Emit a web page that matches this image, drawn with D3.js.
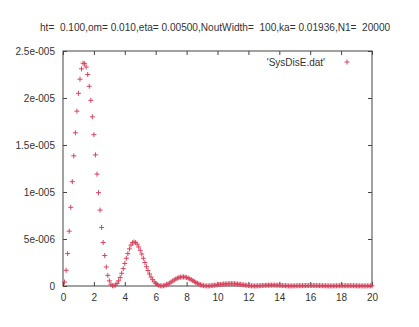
<!DOCTYPE html>
<html lang="en">
<head>
<meta charset="UTF-8">
<title>SysDisE</title>
<script src="https://d3js.org/d3.v7.min.js"></script>
<style>
    body { margin: 0; padding: 0; background: #fff; }
    text { font-family: "Liberation Sans", Arial, sans-serif; fill: #333; }
    .title { font-size: 10.1px; white-space: pre; }
    .frame { fill: none; stroke: #444; stroke-width: 1px; }
    .pt { stroke: #d8445e; stroke-width: 1px; }
</style>
</head>
<body>
<div id="chart"></div>
<script>
    // plot header and legend
    const titleText = "ht=  0.100,om= 0.010,eta= 0.00500,NoutWidth=  100,ka= 0.01936,N1=  20000";
    const seriesName = "'SysDisE.dat'";

    // samples start at x = 0.1 with step 0.1
    const xStart = 0.1;
    const xStep = 0.1;
    // values in units of 1e-6
    const yUnit = 1e-6;
    const sysDisE = [
        0.42, 1.67, 3.45, 5.83, 8.37, 11.1, 13.85, 16.3, 18.6, 20.5,      // 0.1 - 1.0
        22.0, 23.1, 23.7, 23.65, 23.3, 22.5, 21.25, 19.75, 18.0, 16.1,    // 1.1 - 2.0
        13.95, 11.9, 9.93, 8.08, 6.23, 4.63, 3.24, 2.02, 1.13, 0.55,      // 2.1 - 3.0
        0.18, 0.03, 0.02, 0.10, 0.28, 0.55, 0.90, 1.35, 1.85, 2.40,       // 3.1 - 4.0
        2.95, 3.45, 3.95, 4.35, 4.60, 4.68, 4.62, 4.45, 4.15, 3.80,       // 4.1 - 5.0
        3.40, 2.95, 2.50, 2.05, 1.65, 1.28, 0.95, 0.67, 0.45, 0.28,       // 5.1 - 6.0
        0.15, 0.07, 0.02, 0.01, 0.03, 0.08, 0.14, 0.22, 0.31, 0.42,       // 6.1 - 7.0
        0.53, 0.64, 0.74, 0.83, 0.90, 0.94, 0.96, 0.96, 0.94, 0.90,       // 7.1 - 8.0
        0.84, 0.76, 0.67, 0.57, 0.47, 0.37, 0.28, 0.20, 0.13, 0.08,       // 8.1 - 9.0
        0.04, 0.02, 0.01, 0.01, 0.02, 0.04, 0.06, 0.08, 0.10, 0.13,       // 9.1 - 10.0
        0.15, 0.17, 0.19, 0.21, 0.22, 0.23, 0.24, 0.25, 0.25, 0.25,       // 10.1 - 11.0
        0.24, 0.23, 0.21, 0.19, 0.17, 0.14, 0.12, 0.09, 0.07, 0.05,       // 11.1 - 12.0
        0.03, 0.02, 0.01, 0.01, 0.01, 0.02, 0.03, 0.04, 0.05, 0.06,       // 12.1 - 13.0
        0.07, 0.08, 0.08, 0.09, 0.09, 0.09, 0.09, 0.08, 0.08, 0.07,       // 13.1 - 14.0
        0.06, 0.05, 0.04, 0.03, 0.02, 0.01, 0.01, 0.01, 0.01, 0.02,       // 14.1 - 15.0
        0.02, 0.03, 0.03, 0.03, 0.04, 0.04, 0.04, 0.05, 0.05, 0.05,       // 15.1 - 16.0
        0.05, 0.05, 0.05, 0.04, 0.04, 0.04, 0.03, 0.03, 0.02, 0.02,       // 16.1 - 17.0
        0.01, 0.01, 0.01, 0.01, 0.01, 0.02, 0.02, 0.02, 0.03, 0.03,       // 17.1 - 18.0
        0.03, 0.03, 0.03, 0.03, 0.03, 0.03, 0.03, 0.03, 0.02, 0.02,       // 18.1 - 19.0
        0.02, 0.01, 0.01, 0.01, 0.01, 0.01, 0.01, 0.01, 0.02, 0.02        // 19.1 - 20.0
    ];

    const xTicks = [0, 2, 4, 6, 8, 10, 12, 14, 16, 18, 20];
    const yTicks = [0, 5e-6, 1e-5, 1.5e-5, 2e-5, 2.5e-5];
    const yTickLabels = ["0", "5e-006", "1e-005", "1.5e-005", "2e-005", "2.5e-005"];

    const width = 419, height = 327;
    const margin = {left: 63, right: 47, top: 51, bottom: 41};

    const svg = d3.select("#chart")
        .append("svg")
        .attr("width", width)
        .attr("height", height);

    const x = d3.scaleLinear().domain([0, 20]).range([margin.left, width - margin.right]);
    const y = d3.scaleLinear().domain([0, 2.5e-5]).range([height - margin.bottom, margin.top]);

    const points = sysDisE.map((v, i) => ({x: xStart + i * xStep, y: v * yUnit}));

    // title
    svg.append("text")
        .attr("class", "title")
        .attr("x", 40)
        .attr("y", 31)
        .attr("xml:space", "preserve")
        .text(titleText);

    // axes with inward ticks on all four sides (gnuplot style)
    const tickLen = 4;
    const bottomAxis = d3.axisBottom(x).tickValues(xTicks).tickSize(-tickLen).tickPadding(8).tickFormat(d3.format("d"));
    const topAxis = d3.axisTop(x).tickValues(xTicks).tickSize(-tickLen).tickFormat("");
    const leftAxis = d3.axisLeft(y).tickValues(yTicks).tickSize(-tickLen).tickPadding(8)
        .tickFormat((d, i) => yTickLabels[i]);
    const rightAxis = d3.axisRight(y).tickValues(yTicks).tickSize(-tickLen).tickFormat("");

    const gB = svg.append("g").attr("transform", `translate(0,${y(0)})`).call(bottomAxis);
    const gT = svg.append("g").attr("transform", `translate(0,${y(2.5e-5)})`).call(topAxis);
    const gL = svg.append("g").attr("transform", `translate(${x(0)},0)`).call(leftAxis);
    const gR = svg.append("g").attr("transform", `translate(${x(20)},0)`).call(rightAxis);

    [gB, gT, gL, gR].forEach(g => {
        g.select(".domain").remove();
        g.selectAll(".tick line").attr("stroke", "#444");
        g.selectAll(".tick text")
            .attr("fill", "#333")
            .style("font-family", "'Liberation Sans', Arial, sans-serif")
            .style("font-size", "10px");
    });

    svg.append("rect")
        .attr("class", "frame")
        .attr("x", x(0))
        .attr("y", y(2.5e-5))
        .attr("width", x(20) - x(0))
        .attr("height", y(0) - y(2.5e-5));

    // data points as "+" marks
    const half = 2.5;
    const plus = d => `M${-half},0H${half}M0,${-half}V${half}`;
    svg.append("g")
        .selectAll("path")
        .data(points)
        .enter()
        .append("path")
        .attr("class", "pt")
        .attr("transform", d => `translate(${x(d.x)},${y(d.y)})`)
        .attr("d", plus);

    // legend
    const legendY = 62;
    svg.append("text")
        .attr("x", 325)
        .attr("y", legendY + 3.5)
        .attr("text-anchor", "end")
        .style("font-size", "10px")
        .text(seriesName);
    svg.append("path")
        .attr("class", "pt")
        .attr("transform", `translate(347,${legendY})`)
        .attr("d", plus);
</script>
</body>
</html>
